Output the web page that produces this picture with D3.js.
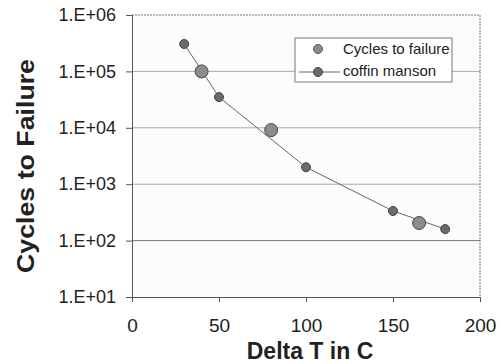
<!DOCTYPE html>
<html lang="en">
<head>
  <meta charset="UTF-8" />
  <title>Cycles to Failure</title>
  <style>
  body { margin: 0; background: #fff; }
  text { font-family: "Liberation Sans", Arial, sans-serif; fill: #222; }
  </style>
</head>
<body>
  <script src="https://cdn.jsdelivr.net/npm/d3@7"></script>
  <script>
  // measured points
  var cyclesT = [40, 80, 165];
  var cyclesN = [1.0e5, 9.1e3, 2.05e2];
  var coffinT = [30, 50, 100, 150, 180];
  var coffinN = [3.06e5, 3.5e4, 2.0e3, 3.35e2, 1.6e2];

  var yTicks = [1e1, 1e2, 1e3, 1e4, 1e5, 1e6];
  var yLabels = ["1.E+01", "1.E+02", "1.E+03", "1.E+04", "1.E+05", "1.E+06"];
  var xTicks = [0, 50, 100, 150, 200];
  var seriesNames = ["Cycles to failure", "coffin manson"];

  var W = 501, H = 364;
  var margin = {top: 15, right: 21, bottom: 67, left: 132};

  var svg = d3.select("body").append("svg")
    .attr("width", W)
    .attr("height", H);

  var x = d3.scaleLinear().domain([0, 200]).range([margin.left, W - margin.right]);
  var y = d3.scaleLog().domain([10, 1e6]).range([H - margin.bottom, margin.top]);

  // plot background
  svg.append("rect")
    .attr("x", x(0)).attr("y", y(1e6))
    .attr("width", x(200) - x(0)).attr("height", y(10) - y(1e6))
    .attr("fill", "#fcfcfb");

  // grid lines
  svg.selectAll("line.grid")
    .data(yTicks.slice(1, 5))
    .enter().append("line")
      .attr("class", "grid")
      .attr("x1", x(0)).attr("x2", x(200))
      .attr("y1", function(d) { return y(d); })
      .attr("y2", function(d) { return y(d); })
      .attr("stroke", function(d) { return d === 100 ? "#777" : "#aaa"; })
      .attr("stroke-width", 1);

  // top and right frame
  svg.append("path")
    .attr("d", "M" + x(0) + "," + y(1e6) + "H" + x(200) + "V" + y(10))
    .attr("fill", "none")
    .attr("stroke", "#777")
    .attr("stroke-dasharray", "2,1");

  var yAxis = svg.append("g")
    .attr("transform", "translate(" + x(0) + ",0)")
    .call(d3.axisLeft(y).tickValues(yTicks)
      .tickFormat(function(d, i) { return yLabels[i]; })
      .tickSize(6).tickPadding(10));
  yAxis.select(".domain").attr("stroke", "#555");
  yAxis.selectAll(".tick line").attr("stroke", "#555");
  yAxis.selectAll("text").attr("font-size", 18).attr("fill", "#222")
    .attr("font-family", "Liberation Sans, Arial, sans-serif");

  var xAxis = svg.append("g")
    .attr("transform", "translate(0," + y(10) + ")")
    .call(d3.axisBottom(x).tickValues(xTicks).tickSize(5).tickPadding(17));
  xAxis.select(".domain").attr("stroke", "#555");
  xAxis.selectAll(".tick line").attr("stroke", "#555");
  xAxis.selectAll("text").attr("font-size", 19).attr("fill", "#222")
    .attr("font-family", "Liberation Sans, Arial, sans-serif");

  // coffin manson line
  var line = d3.line()
    .x(function(d, i) { return x(coffinT[i]); })
    .y(function(d) { return y(d); });
  svg.append("path")
    .attr("d", line(coffinN))
    .attr("fill", "none")
    .attr("stroke", "#666")
    .attr("stroke-width", 1);

  svg.selectAll("circle.coffin")
    .data(coffinN)
    .enter().append("circle")
      .attr("class", "coffin")
      .attr("cx", function(d, i) { return x(coffinT[i]); })
      .attr("cy", function(d) { return y(d); })
      .attr("r", 4.5)
      .attr("fill", "#6b6b6b")
      .attr("stroke", "#444");

  svg.selectAll("circle.cycles")
    .data(cyclesN)
    .enter().append("circle")
      .attr("class", "cycles")
      .attr("cx", function(d, i) { return x(cyclesT[i]); })
      .attr("cy", function(d) { return y(d); })
      .attr("r", 6.5)
      .attr("fill", "#8c8c8c")
      .attr("stroke", "#4a4a4a");

  // legend
  var lg = svg.append("g");
  lg.append("rect")
    .attr("x", 295).attr("y", 38).attr("width", 157).attr("height", 44)
    .attr("fill", "#fff").attr("stroke", "#777");
  lg.append("circle").attr("cx", 318).attr("cy", 49).attr("r", 4.5)
    .attr("fill", "#8c8c8c").attr("stroke", "#555");
  lg.append("line").attr("x1", 299).attr("x2", 340).attr("y1", 72).attr("y2", 72)
    .attr("stroke", "#666");
  lg.append("circle").attr("cx", 318).attr("cy", 72).attr("r", 4.5)
    .attr("fill", "#6b6b6b").attr("stroke", "#444");
  lg.selectAll("text.leg")
    .data(seriesNames)
    .enter().append("text")
      .attr("class", "leg")
      .attr("x", 343)
      .attr("y", function(d, i) { return 54 + i * 22; })
      .attr("font-size", 15)
      .attr("fill", "#333")
      .text(function(d) { return d; });

  // axis titles
  svg.append("text")
    .attr("transform", "translate(34,166) rotate(-90)")
    .attr("text-anchor", "middle")
    .attr("font-size", 24)
    .attr("font-weight", "bold")
    .attr("textLength", 214)
    .attr("lengthAdjust", "spacingAndGlyphs")
    .text("Cycles to Failure");

  svg.append("text")
    .attr("x", 310)
    .attr("y", 359)
    .attr("text-anchor", "middle")
    .attr("font-size", 23)
    .attr("font-weight", "bold")
    .text("Delta T in C");
  </script>
</body>
</html>
